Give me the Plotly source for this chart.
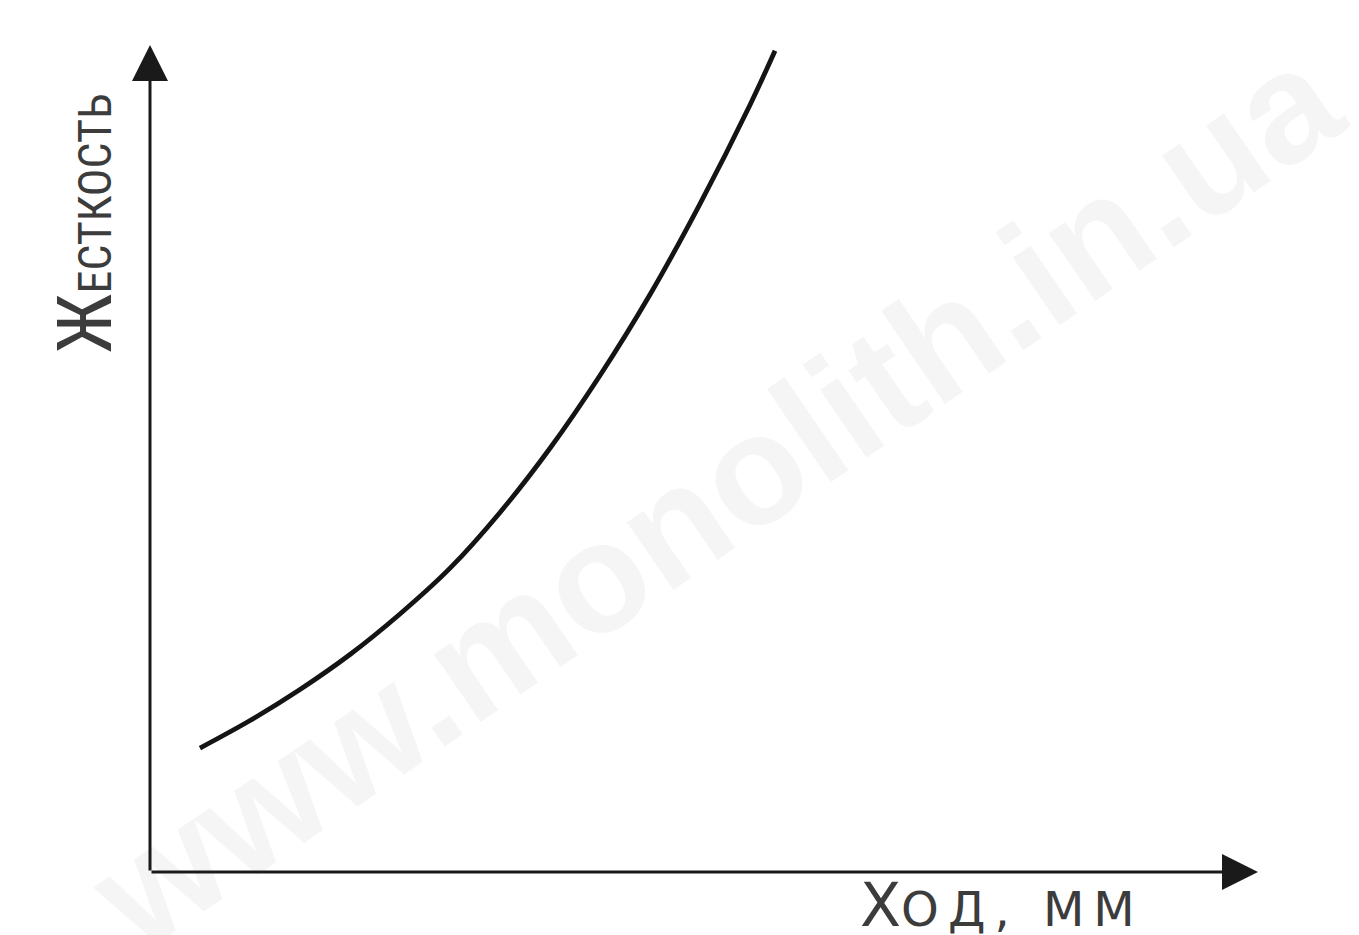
import plotly.graph_objects as go

# Data (arbitrary units)
stroke = [0.451, 0.903, 1.354, 1.805, 2.256, 2.708, 3.159, 3.610, 4.061, 4.513, 4.964, 5.415, 5.641]
stiffness = [1.499, 1.832, 2.207, 2.630, 3.120, 3.674, 4.348, 5.124, 6.004, 6.983, 8.080, 9.275, 9.930]

x_label = "Х<span style='font-size:48px;letter-spacing:9px'>ОД, ММ</span>"
y_label = "Ж<span style='font-size:46px'>ЕСТКОСТЬ</span>"
watermark = "www.monolith.in.ua"

fig = go.Figure()
fig.add_trace(go.Scatter(
    x=stroke, y=stiffness, mode="lines",
    line=dict(color="#141414", width=4.8, shape="spline", smoothing=1.0),
    hoverinfo="skip", showlegend=False,
))

axis_common = dict(showgrid=False, zeroline=False, showticklabels=False,
                   showline=False, ticks="", fixedrange=True)
fig.update_layout(
    width=1359, height=935,
    margin=dict(l=142, r=109, t=37, b=71),
    paper_bgcolor="white", plot_bgcolor="white",
    xaxis=dict(range=[0, 10], **axis_common),
    yaxis=dict(range=[0, 10], **axis_common),
    font=dict(family="Liberation Sans Narrow, Roboto Condensed, DejaVu Sans Condensed, Roboto, sans-serif",
              color="#3c3c3c"),
)

# watermark
fig.add_annotation(
    text="<b>" + watermark + "</b>", xref="paper", yref="paper", x=0.51, y=0.455,
    showarrow=False, textangle=-34.4,
    font=dict(family="Liberation Sans, Arial, sans-serif", size=156, color="rgba(0,0,0,0.04)"),
)

# axes with arrows
for tip, tail in [((10, 0), (0, 0)), ((0, 10), (0, 0))]:
    fig.add_annotation(
        x=tip[0], y=tip[1], ax=tail[0], ay=tail[1],
        xref="x", yref="y", axref="x", ayref="y",
        text="", showarrow=True, arrowhead=2, arrowsize=2.4,
        arrowwidth=3, arrowcolor="#1a1a1a", standoff=0, startstandoff=0,
    )

fig.add_annotation(
    text=y_label, xref="paper", yref="paper", x=-0.0587, y=0.784,
    textangle=-90, showarrow=False, xanchor="center", yanchor="middle",
    font=dict(size=76, color="#3c3c3c"),
)
fig.add_annotation(
    text=x_label, xref="paper", yref="paper", x=0.769, y=-0.04,
    showarrow=False, xanchor="center", yanchor="middle",
    font=dict(family="DejaVu Sans, sans-serif", size=60, color="#3c3c3c"),
)

fig.write_html("out.html")
